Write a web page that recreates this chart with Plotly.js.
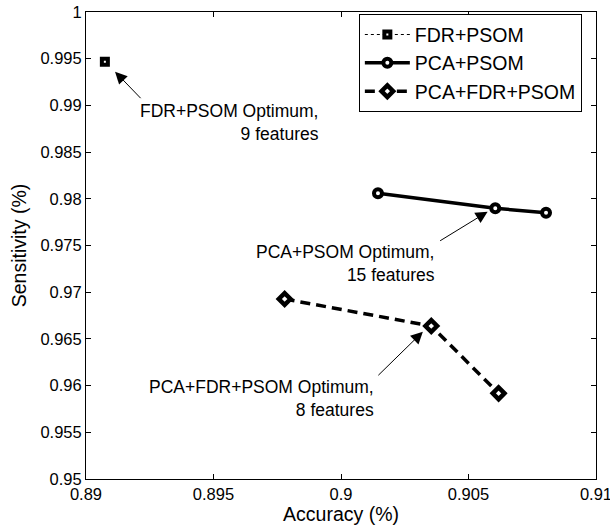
<!DOCTYPE html>
<html>
<head>
<meta charset="utf-8">
<script src="https://cdn.plot.ly/plotly-3.0.1.min.js"></script>
<style>html,body{margin:0;padding:0;background:#fff;}#chart{width:610px;height:529px;}</style>
</head>
<body>
<div id="chart"></div>
<script>
// Data
const fdrPsomAcc = [0.89074];
const fdrPsomSens = [0.99468];

const pcaPsomAcc = [0.90145, 0.90605, 0.90804];
const pcaPsomSens = [0.98059, 0.97898, 0.97851];

const pcaFdrPsomAcc = [0.89779, 0.90354, 0.90618];
const pcaFdrPsomSens = [0.96927, 0.96638, 0.95917];

const seriesNames = ['FDR+PSOM', 'PCA+PSOM', 'PCA+FDR+PSOM'];

const xTickVals = [0.89, 0.895, 0.9, 0.905, 0.91];
const xTickText = ['0.89', '0.895', '0.9', '0.905', '0.91'];
const yTickVals = [0.95, 0.955, 0.96, 0.965, 0.97, 0.975, 0.98, 0.985, 0.99, 0.995, 1];
const yTickText = ['0.95', '0.955', '0.96', '0.965', '0.97', '0.975', '0.98', '0.985', '0.99', '0.995', '1'];

const annText = ['FDR+PSOM Optimum,<br>9 features', 'PCA+PSOM Optimum,<br>15 features', 'PCA+FDR+PSOM Optimum,<br>8 features'];

const FONT = '"Liberation Sans", Arial, Helvetica, sans-serif';

const traces = [
  {
    x: fdrPsomAcc, y: fdrPsomSens, name: seriesNames[0], mode: 'lines+markers',
    line: {color: 'black', width: 1, dash: 'dot'},
    marker: {symbol: 'square', size: 6, color: 'white', line: {color: 'black', width: 4}}
  },
  {
    x: pcaPsomAcc, y: pcaPsomSens, name: seriesNames[1], mode: 'lines+markers',
    line: {color: 'black', width: 3.5},
    marker: {symbol: 'circle', size: 8, color: 'white', line: {color: 'black', width: 4}}
  },
  {
    x: pcaFdrPsomAcc, y: pcaFdrPsomSens, name: seriesNames[2], mode: 'lines+markers',
    line: {color: 'black', width: 3.5, dash: '10px,6px'},
    marker: {symbol: 'diamond', size: 9, color: 'white', line: {color: 'black', width: 4.5}}
  }
];

const arrowHeads = [[0.89114, 0.99361, 27, 28], [0.90575, 0.97862, -49, 30], [0.90321, 0.96577, -46, 45]];
const textPos = [[0.89923, 0.98812], [0.90378, 0.97302], [0.90138, 0.95862]];

const annotations = [];
for (let i = 0; i < 3; i++) {
  annotations.push({
    x: arrowHeads[i][0], y: arrowHeads[i][1], xref: 'x', yref: 'y',
    ax: arrowHeads[i][2], ay: arrowHeads[i][3], text: '', showarrow: true,
    arrowhead: 2, arrowsize: 2.4, arrowwidth: 1, arrowcolor: 'black', standoff: 0, startstandoff: 0
  });
  annotations.push({
    x: textPos[i][0], y: textPos[i][1], xref: 'x', yref: 'y',
    text: annText[i], showarrow: false, xanchor: 'right', yanchor: 'middle', align: 'right',
    font: {family: FONT, size: 17.5, color: 'black'}
  });
}

const axisCommon = {
  showgrid: false, zeroline: false, showline: true, linecolor: 'black', linewidth: 1,
  mirror: 'ticks', ticks: 'inside', ticklen: 5, tickwidth: 1, tickcolor: 'black',
  ticklabeloverflow: 'allow',
  tickfont: {family: FONT, size: 16.5, color: 'black'}
};

const layout = {
  width: 610, height: 529,
  margin: {l: 86, r: 14, t: 12, b: 50},
  paper_bgcolor: 'white', plot_bgcolor: 'white',
  font: {family: FONT, color: 'black'},
  showlegend: true,
  legend: {
    x: 0.535, y: 0.995, xanchor: 'left', yanchor: 'top',
    bgcolor: 'white', bordercolor: 'black', borderwidth: 1,
    font: {family: FONT, size: 19.5, color: 'black'},
    itemwidth: 45, tracegroupgap: 0
  },
  xaxis: Object.assign({}, axisCommon, {
    range: [0.89, 0.91], tickvals: xTickVals, ticktext: xTickText,
    title: {text: 'Accuracy (%)', font: {family: FONT, size: 19.5, color: 'black'}, standoff: 4}
  }),
  yaxis: Object.assign({}, axisCommon, {
    range: [0.95, 1], tickvals: yTickVals, ticktext: yTickText,
    title: {text: 'Sensitivity (%)', font: {family: FONT, size: 19.5, color: 'black'}, standoff: 8}
  }),
  annotations: annotations
};

Plotly.newPlot('chart', traces, layout, {displayModeBar: false, staticPlot: true});
</script>
</body>
</html>
